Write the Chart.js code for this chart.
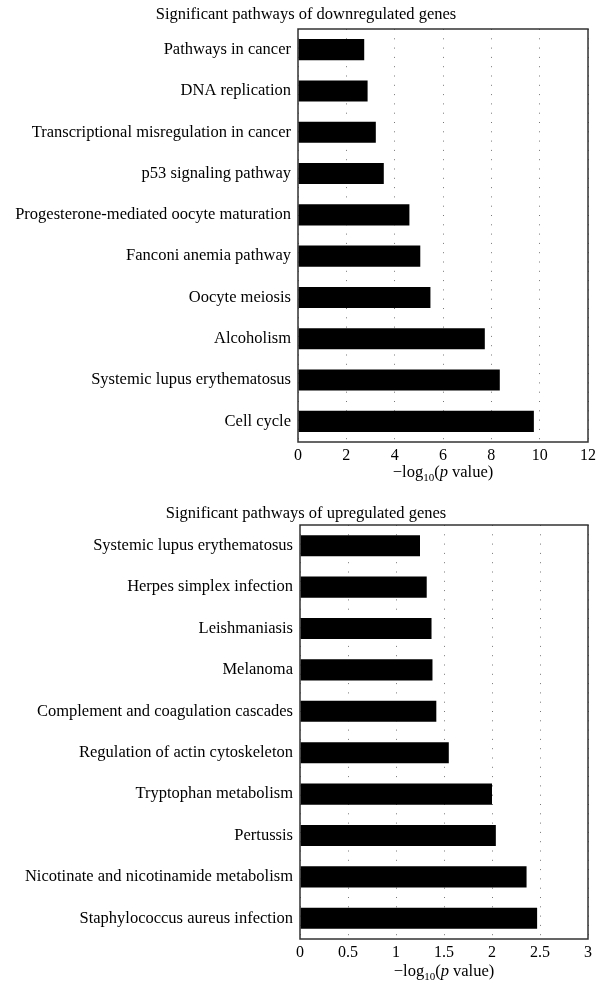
<!DOCTYPE html>
<html>
<head>
<meta charset="utf-8">
<script src="https://cdn.jsdelivr.net/npm/chart.js@4/dist/chart.umd.min.js"></script>
<style>
  body { margin: 0; background: #fff; }
  #wrap { position: relative; width: 605px; height: 1000px; }
  canvas { position: absolute; left: 0; }
</style>
</head>
<body>
<div id="wrap">
  <canvas id="downChart" width="605" height="490" style="top:0"></canvas>
  <canvas id="upChart" width="605" height="510" style="top:490px"></canvas>
</div>
<script>
const downPathways = ['Pathways in cancer', 'DNA replication', 'Transcriptional misregulation in cancer',
  'p53 signaling pathway', 'Progesterone-mediated oocyte maturation', 'Fanconi anemia pathway',
  'Oocyte meiosis', 'Alcoholism', 'Systemic lupus erythematosus', 'Cell cycle'];
const downValues = [2.74, 2.88, 3.22, 3.55, 4.61, 5.06, 5.48, 7.73, 8.35, 9.76];
const downTicks = ['0', '2', '4', '6', '8', '10', '12'];

const upPathways = ['Systemic lupus erythematosus', 'Herpes simplex infection', 'Leishmaniasis',
  'Melanoma', 'Complement and coagulation cascades', 'Regulation of actin cytoskeleton',
  'Tryptophan metabolism', 'Pertussis', 'Nicotinate and nicotinamide metabolism',
  'Staphylococcus aureus infection'];
const upValues = [1.25, 1.32, 1.37, 1.38, 1.42, 1.55, 2.0, 2.04, 2.36, 2.47];
const upTicks = ['0', '0.5', '1', '1.5', '2', '2.5', '3'];

const serif = 'Liberation Serif';

// box round the plot area, chart title and the -log10(p value) axis title
const frame = {
  id: 'frame',
  afterDraw(chart, args, opts) {
    const { ctx, chartArea: a } = chart;
    ctx.save();
    ctx.strokeStyle = '#333';
    ctx.lineWidth = 1.5;
    ctx.strokeRect(a.left, a.top, a.right - a.left, a.bottom - a.top);

    ctx.fillStyle = '#000';
    ctx.font = '16.5px "' + serif + '"';
    ctx.textAlign = 'center';
    ctx.textBaseline = 'middle';
    ctx.fillText(opts.title, 306, opts.titleY);

    const parts = [
      { t: '\u2212log', f: '16.5px "' + serif + '"', dy: 0 },
      { t: '10', f: '11px "' + serif + '"', dy: 4 },
      { t: '(', f: '16.5px "' + serif + '"', dy: 0 },
      { t: 'p', f: 'italic 16.5px "' + serif + '"', dy: 0 },
      { t: ' value)', f: '16.5px "' + serif + '"', dy: 0 }
    ];
    ctx.textAlign = 'left';
    ctx.textBaseline = 'alphabetic';
    let total = 0;
    parts.forEach(p => { ctx.font = p.f; p.w = ctx.measureText(p.t).width; total += p.w; });
    let x = (a.left + a.right) / 2 - total / 2;
    const y = a.bottom + opts.offset;
    parts.forEach(p => { ctx.font = p.f; ctx.fillText(p.t, x, y + p.dy); x += p.w; });
    ctx.restore();
  }
};

function makeChart(id, labels, values, max, step, tickLabels, title, cfg) {
  const ctx = document.getElementById(id).getContext('2d');
  return new Chart(ctx, {
    type: 'bar',
    data: {
      labels: labels,
      datasets: [{
        data: values,
        backgroundColor: '#000',
        borderWidth: 0,
        categoryPercentage: 1,
        barPercentage: 0.51
      }]
    },
    options: {
      indexAxis: 'y',
      responsive: false,
      animation: false,
      layout: { padding: { left: 0, right: 17, top: cfg.top, bottom: cfg.bottom } },
      plugins: {
        legend: { display: false },
        tooltip: { enabled: false },
        title: { display: false },
        frame: { offset: cfg.axisTitle, title: title, titleY: cfg.titleY }
      },
      scales: {
        x: {
          min: 0,
          max: max,
          ticks: {
            stepSize: step,
            color: '#000',
            padding: 4,
            font: { family: serif, size: 16 },
            callback: (v, i) => tickLabels[i]
          },
          grid: {
            drawTicks: false,
            color: '#777',
            lineWidth: 1
          },
          border: { display: false, dash: [1, 8.3] },
          afterFit: (s) => { s.height = 22; }
        },
        y: {
          ticks: {
            color: '#000',
            padding: 7,
            autoSkip: false,
            font: { family: serif, size: 16.5 }
          },
          grid: { display: false, drawTicks: false },
          border: { display: false },
          afterFit: (s) => { s.width = cfg.yWidth; }
        }
      }
    },
    plugins: [frame]
  });
}

makeChart('downChart', downPathways, downValues, 12, 2, downTicks,
  'Significant pathways of downregulated genes',
  { top: 29, bottom: 26, titleY: 15, yWidth: 298, axisTitle: 35 });

makeChart('upChart', upPathways, upValues, 3, 0.5, upTicks,
  'Significant pathways of upregulated genes',
  { top: 35, bottom: 39, titleY: 24, yWidth: 300, axisTitle: 37 });
</script>
</body>
</html>
